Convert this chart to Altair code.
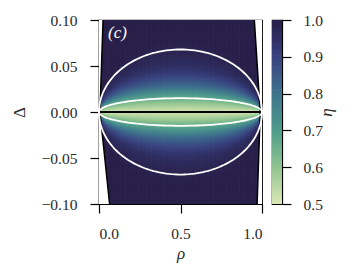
import altair as alt
import numpy as np
import pandas as pd

FONT = "Liberation Serif"

# ---- values ----
rho_ticks = [0.0, 0.5, 1.0]
delta_ticks = [-0.10, -0.05, 0.0, 0.05, 0.10]
eta_ticks = [0.5, 0.6, 0.7, 0.8, 0.9, 1.0]
cmap_domain = [0.5, 0.6, 0.7, 0.8, 0.9, 0.95, 1.0]
cmap_colors = ["#dde7b7", "#8fc48f", "#4e9c8b", "#3e738e", "#394380", "#2f2f63", "#29204a"]

# eta profile read along rho = 0.5 as a function of |Delta| (field scales like an ellipse)
profile_u = [0.0, 0.005, 0.01, 0.015, 0.02, 0.025, 0.03, 0.035, 0.04, 0.045, 0.05, 0.06, 0.07, 0.08]
profile_eta = [0.52, 0.55, 0.60, 0.66, 0.72, 0.78, 0.83, 0.87, 0.905, 0.93, 0.95, 0.975, 0.99, 1.0]

ellipse_half_heights = [0.015, 0.068]
boundary_delta = [0.1, 0.0, -0.1]
left_rho = [0.025, 0.006, 0.065]
right_rho = [0.953, 0.989, 0.970]

# ---- build tables ----
nr, nd = 100, 100
r_edges = np.linspace(0, 1, nr + 1)
d_edges = np.linspace(-0.1, 0.1, nd + 1)
rc = (r_edges[:-1] + r_edges[1:]) / 2
dc = (d_edges[:-1] + d_edges[1:]) / 2
rows = []
for i in range(nr):
    for j in range(nd):
        u = abs(dc[j]) / (2 * np.sqrt(rc[i] * (1 - rc[i])))
        rows.append((r_edges[i], r_edges[i + 1] + 0.004, d_edges[j], d_edges[j + 1] + 0.0008,
                     float(np.interp(u, profile_u, profile_eta))))
heat_df = pd.DataFrame(rows, columns=["r0", "r1", "d0", "d1", "eta"])

ell_rows = []
for a in ellipse_half_heights:
    for k, t in enumerate(np.linspace(0, 2 * np.pi, 181)):
        ell_rows.append((a, k, 0.5 + 0.5 * np.cos(t), a * np.sin(t)))
ell_df = pd.DataFrame(ell_rows, columns=["level", "k", "rho", "delta"])

left_df = pd.DataFrame({"delta": boundary_delta, "rho": left_rho, "edge": 0.0})
right_df = pd.DataFrame({"delta": boundary_delta, "rho": right_rho, "edge": 1.0})

cb_v = np.linspace(0.5, 1.0, 201)
cb_df = pd.DataFrame({"v0": cb_v[:-1], "v1": cb_v[1:] + 0.002, "eta": (cb_v[:-1] + cb_v[1:]) / 2})

# ---- scales / axes ----
xs = alt.Scale(domain=[0, 1], nice=False, zero=False)
ys = alt.Scale(domain=[-0.1, 0.1], nice=False, zero=False)
cs = alt.Scale(domain=cmap_domain, range=cmap_colors, interpolate="rgb")

axis_common = dict(labelFont=FONT, titleFont=FONT, labelFontSize=15.5, titleFontSize=17,
                   labelColor="#2a2a2a", titleColor="#2a2a2a", domainColor="black",
                   tickColor="black", tickSize=9, tickWidth=1.2, domainWidth=1.2,
                   grid=False, titleFontWeight="normal")

x_axis = alt.Axis(values=rho_ticks, format=".1f", title="ρ", labelPadding=13,
                  titlePadding=4, titleFontStyle="italic", **axis_common)
y_axis = alt.Axis(values=delta_ticks, format=".2f", title="Δ", labelPadding=13,
                  titlePadding=13, **axis_common)

heat = alt.Chart(heat_df).mark_rect(clip=True).encode(
    x=alt.X("r0:Q", scale=xs, axis=x_axis), x2="r1:Q",
    y=alt.Y("d0:Q", scale=ys, axis=y_axis), y2="d1:Q",
    color=alt.Color("eta:Q", scale=cs, legend=None),
)

white_left = alt.Chart(left_df).mark_area(orient="horizontal", color="white").encode(
    y=alt.Y("delta:Q", scale=ys), x=alt.X("rho:Q", scale=xs), x2="edge:Q")
white_right = alt.Chart(right_df).mark_area(orient="horizontal", color="white").encode(
    y=alt.Y("delta:Q", scale=ys), x=alt.X("rho:Q", scale=xs), x2="edge:Q")

line_left = alt.Chart(left_df).mark_line(color="black", strokeWidth=1.5).encode(
    y=alt.Y("delta:Q", scale=ys), x=alt.X("rho:Q", scale=xs), order="delta:Q")
line_right = alt.Chart(right_df).mark_line(color="black", strokeWidth=1.5).encode(
    y=alt.Y("delta:Q", scale=ys), x=alt.X("rho:Q", scale=xs), order="delta:Q")

center = alt.Chart(heat_df.head(1)).mark_rule(color="black", strokeWidth=2).encode(
    y=alt.datum(0.0))

ellipses = alt.Chart(ell_df).mark_line(color="white", strokeWidth=1.8).encode(
    x=alt.X("rho:Q", scale=xs), y=alt.Y("delta:Q", scale=ys),
    detail="level:N", order="k:Q")

label = alt.Chart(pd.DataFrame({"rho": [0.055], "delta": [0.086], "t": ["(c)"]})).mark_text(
    color="white", font=FONT, fontSize=17, fontStyle="italic", align="left",
    baseline="middle").encode(x=alt.X("rho:Q", scale=xs), y=alt.Y("delta:Q", scale=ys), text="t:N")

main = alt.layer(heat, white_left, white_right, line_left, line_right, center,
                 ellipses, label).properties(width=163, height=184)

cb_axis = alt.Axis(orient="right", values=eta_ticks, format=".1f", title="η",
                   titleAngle=270, labelPadding=12, titlePadding=13,
                   titleFontStyle="italic", **axis_common)
cbar = alt.Chart(cb_df).mark_rect(clip=True).encode(
    y=alt.Y("v0:Q", scale=alt.Scale(domain=[0.5, 1.0], nice=False, zero=False), axis=cb_axis),
    y2="v1:Q",
    color=alt.Color("eta:Q", scale=cs, legend=None),
).properties(width=10, height=184)

chart = alt.hconcat(main, cbar, spacing=10, bounds="flush").configure_view(
    stroke="black", strokeWidth=1.2).properties(
    padding={"left": 1, "top": 4, "right": 5, "bottom": 5})

chart.save("out.html", embed_options={"renderer": "svg", "actions": False})
